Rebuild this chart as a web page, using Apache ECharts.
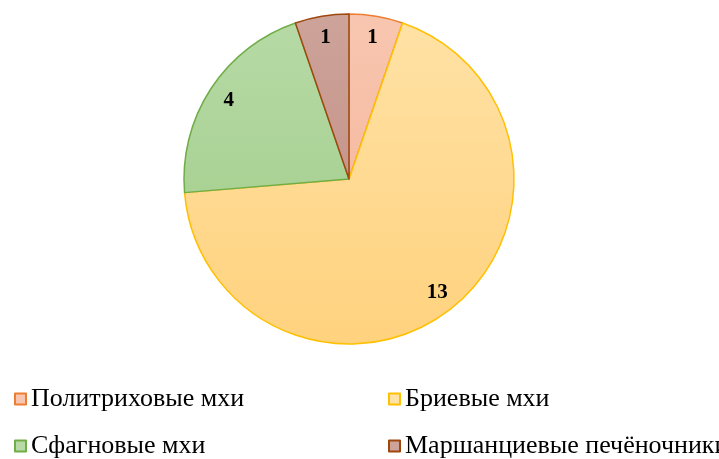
<!DOCTYPE html>
<html>
<head>
<meta charset="utf-8">
<script src="https://cdn.jsdelivr.net/npm/echarts@6/dist/echarts.min.js"></script>
<style>
  html, body { margin: 0; padding: 0; background: #fff; }
  #chart { width: 719px; height: 459px; }
</style>
</head>
<body>
<div id="chart"></div>
<script>
const categories = [
  "Политриховые мхи",
  "Бриевые мхи",
  "Сфагновые мхи",
  "Маршанциевые печёночники",
];
const counts = [1, 13, 4, 1];

// fill gradient (top, bottom) and edge colour for every slice
const fillTop = ["#F8C6B0", "#FFE2A6", "#B7DAA6", "#CDA39A"];
const fillBottom = ["#F4B193", "#FFD27E", "#9ECB86", "#C0897D"];
const edgeColors = ["#ED7D31", "#FFC000", "#70AD47", "#9E480E"];

const chart = echarts.init(document.getElementById("chart"));

const pieData = categories.map((name, i) => ({
  name: name,
  value: counts[i],
  itemStyle: {
    color: new echarts.graphic.LinearGradient(0, 14, 0, 344, [
      { offset: 0, color: fillTop[i] },
      { offset: 1, color: fillBottom[i] },
    ], true),
    borderColor: edgeColors[i],
    borderWidth: 1.5,
  },
}));

const legendText = {
  fontFamily: "Liberation Serif",
  fontSize: 26,
  color: "#000",
  lineHeight: 26,
};

const legendBase = {
  orient: "vertical",
  top: 386,
  height: 80,
  padding: 0,
  icon: "rect",
  itemWidth: 11,
  itemHeight: 11,
  itemGap: 21,
  textStyle: legendText,
  itemStyle: { borderWidth: 2 },
};

const option = {
  backgroundColor: "#fff",
  animation: false,
  legend: [
    Object.assign({}, legendBase, { left: 14, data: [categories[0], categories[2]] }),
    Object.assign({}, legendBase, { left: 388, data: [categories[1], categories[3]] }),
  ],
  series: [
    {
      type: "pie",
      center: [349, 179],
      radius: 165,
      startAngle: 90,
      clockwise: true,
      silent: true,
      label: { show: false },
      labelLine: { show: false },
      data: pieData,
    },
    {
      // transparent ring, only used to place the value labels near the rim
      type: "pie",
      center: [349, 179],
      radius: [116, 165],
      startAngle: 90,
      clockwise: true,
      silent: true,
      legendHoverLink: false,
      itemStyle: { color: "transparent", borderWidth: 0 },
      label: {
        show: true,
        position: "inside",
        formatter: "{c}",
        fontFamily: "Liberation Serif",
        fontWeight: "bold",
        fontSize: 21,
        color: "#000",
      },
      labelLine: { show: false },
      data: categories.map((name, i) => ({ name: name + " ", value: counts[i] })),
    },
  ],
};

chart.setOption(option);
</script>
</body>
</html>
